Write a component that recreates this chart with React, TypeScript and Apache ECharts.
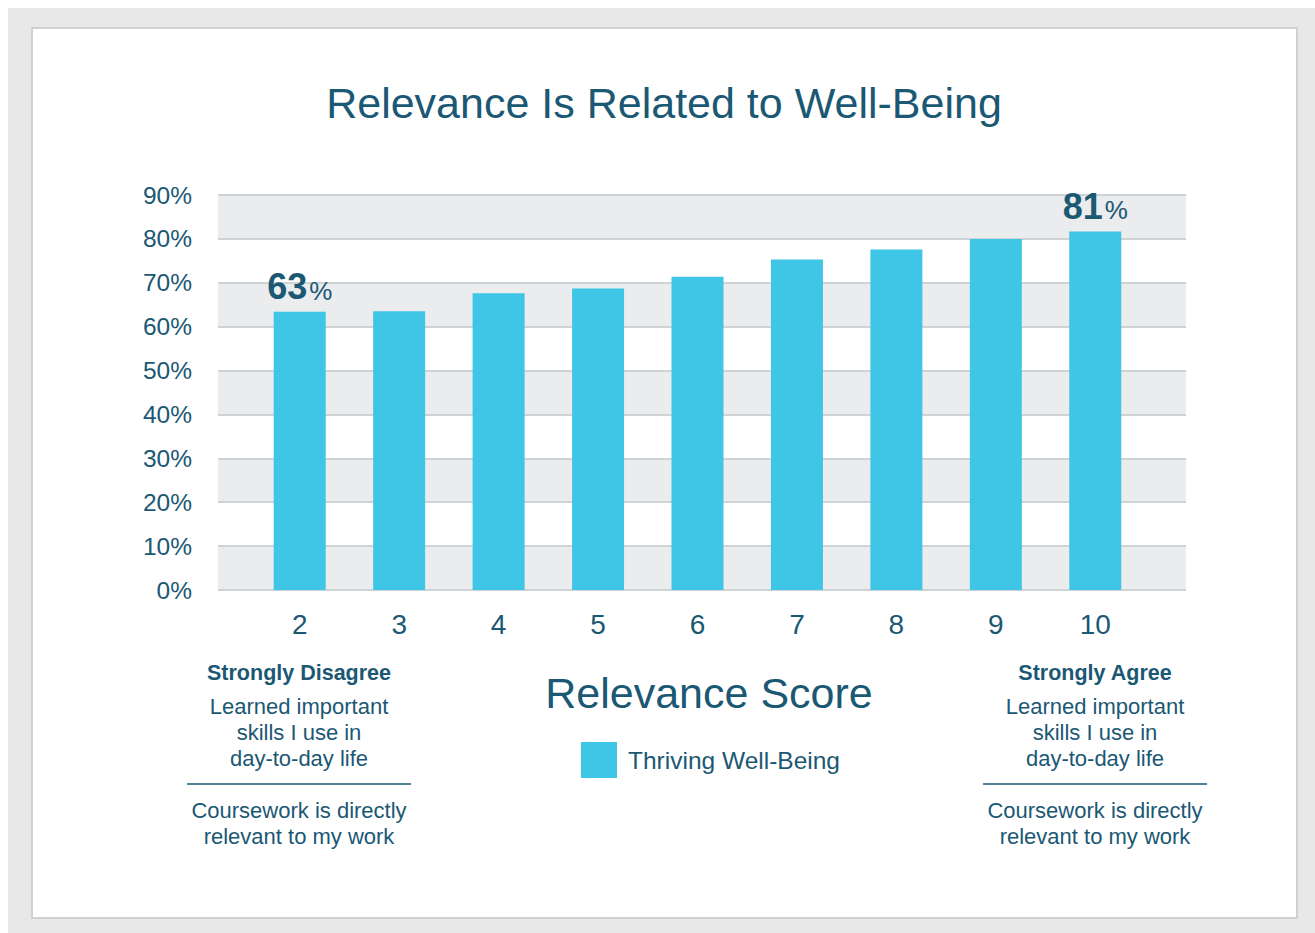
import React, { useEffect, useRef } from "react";
import * as echarts from "echarts";

const categories = ["2", "3", "4", "5", "6", "7", "8", "9", "10"];
const thriving = [63.4, 63.5, 67.6, 68.7, 71.4, 75.3, 77.6, 80, 81.7];
const labeledIndices = [0, 8];
const labeledValues = [63, 81];
const yTicks = [0, 10, 20, 30, 40, 50, 60, 70, 80, 90];
const titleText = "Relevance Is Related to Well-Being";
const axisTitle = "Relevance Score";
const seriesName = "Thriving Well-Being";
const leftNote = ["Strongly Disagree", "Learned important", "skills I use in", "day-to-day life", "Coursework is directly", "relevant to my work"];
const rightNote = ["Strongly Agree", "Learned important", "skills I use in", "day-to-day life", "Coursework is directly", "relevant to my work"];

const TXT = "#1b5874";
const BAR = "#3fc6e6";
const FONT = "'Liberation Sans', Arial, sans-serif";

function noteGraphics(cx: number, lines: string[]) {
  const ys = [673, 706, 732, 758, 810, 836];
  const els: any[] = lines.map((t, i) => ({
    type: "text",
    x: cx,
    y: ys[i],
    style: {
      text: t,
      fill: TXT,
      font: `${i === 0 ? "bold 21.5px" : "22px"} ${FONT}`,
      textAlign: "center",
      textVerticalAlign: "middle",
    },
  }));
  els.push({
    type: "line",
    shape: { x1: cx - 112, y1: 784, x2: cx + 112, y2: 784 },
    style: { stroke: TXT, lineWidth: 1.5 },
  });
  return els;
}

export default function App() {
  const ref = useRef<HTMLDivElement>(null);
  useEffect(() => {
    document.body.style.margin = "0";
    const chart = echarts.init(ref.current!, null, { renderer: "svg" });
    const data = thriving.map((v, i) => {
      const k = labeledIndices.indexOf(i);
      return k >= 0
        ? {
            value: v,
            label: {
              show: true,
              position: "top",
              distance: 7,
              formatter: `{n|${labeledValues[k]}}{p|%}`,
              rich: {
                n: { fontSize: 36, fontWeight: "bold", color: TXT, fontFamily: FONT },
                p: { fontSize: 26, color: TXT, fontFamily: FONT, verticalAlign: "bottom", padding: [0, 0, 1, 2] },
              },
            },
          }
        : v;
    });
    chart.setOption({
      animation: false,
      backgroundColor: "#ffffff",
      graphic: [
        { type: "rect", z: -10, shape: { x: 8, y: 8, width: 1307, height: 925 }, style: { fill: "#e8e8e8" } },
        { type: "rect", z: -9, shape: { x: 32, y: 28, width: 1265, height: 890 }, style: { fill: "#ffffff", stroke: "#cfd1d2", lineWidth: 2 } },
        {
          type: "text", x: 664, y: 103,
          style: { text: titleText, fill: TXT, font: `43px ${FONT}`, textAlign: "center", textVerticalAlign: "middle" },
        },
        {
          type: "text", x: 709, y: 693,
          style: { text: axisTitle, fill: TXT, font: `43px ${FONT}`, textAlign: "center", textVerticalAlign: "middle" },
        },
        ...noteGraphics(299, leftNote),
        ...noteGraphics(1095, rightNote),
      ],
      legend: {
        left: 576,
        top: 737,
        itemWidth: 36,
        itemHeight: 36,
        icon: "rect",
        textStyle: { fontSize: 24.5, color: TXT, fontFamily: FONT, padding: [0, 0, 0, 6] },
        data: [seriesName],
      },
      grid: [
        { left: 218, right: 129, top: 195, bottom: 343 },
        { left: 250, right: 170, top: 195, bottom: 343 },
      ],
      xAxis: [
        { type: "value", gridIndex: 0, show: false, min: 0, max: 1 },
        {
          type: "category",
          gridIndex: 1,
          data: categories,
          axisLine: { show: false },
          axisTick: { show: false },
          axisLabel: { fontSize: 28, color: TXT, fontFamily: FONT, margin: 20 },
        },
      ],
      yAxis: [
        {
          type: "value",
          gridIndex: 0,
          min: 0,
          max: 90,
          interval: 10,
          axisLine: { show: false },
          axisTick: { show: false },
          axisLabel: {
            fontSize: 24.5,
            color: TXT,
            fontFamily: FONT,
            margin: 26,
            formatter: (v: number) => (yTicks.includes(v) ? `${v}%` : ""),
          },
          splitLine: { show: true, lineStyle: { color: "#d0d3d6", width: 2 } },
          splitArea: { show: true, areaStyle: { color: ["#ebecee", "#ffffff"] } },
        },
        { type: "value", gridIndex: 1, min: 0, max: 90, interval: 10, show: false, splitLine: { show: false } },
      ],
      series: [
        {
          name: seriesName,
          type: "bar",
          xAxisIndex: 1,
          yAxisIndex: 1,
          barWidth: 52,
          itemStyle: { color: BAR },
          data,
        },
      ],
    });
    return () => chart.dispose();
  }, []);
  return <div ref={ref} style={{ width: 1315, height: 933 }} />;
}
